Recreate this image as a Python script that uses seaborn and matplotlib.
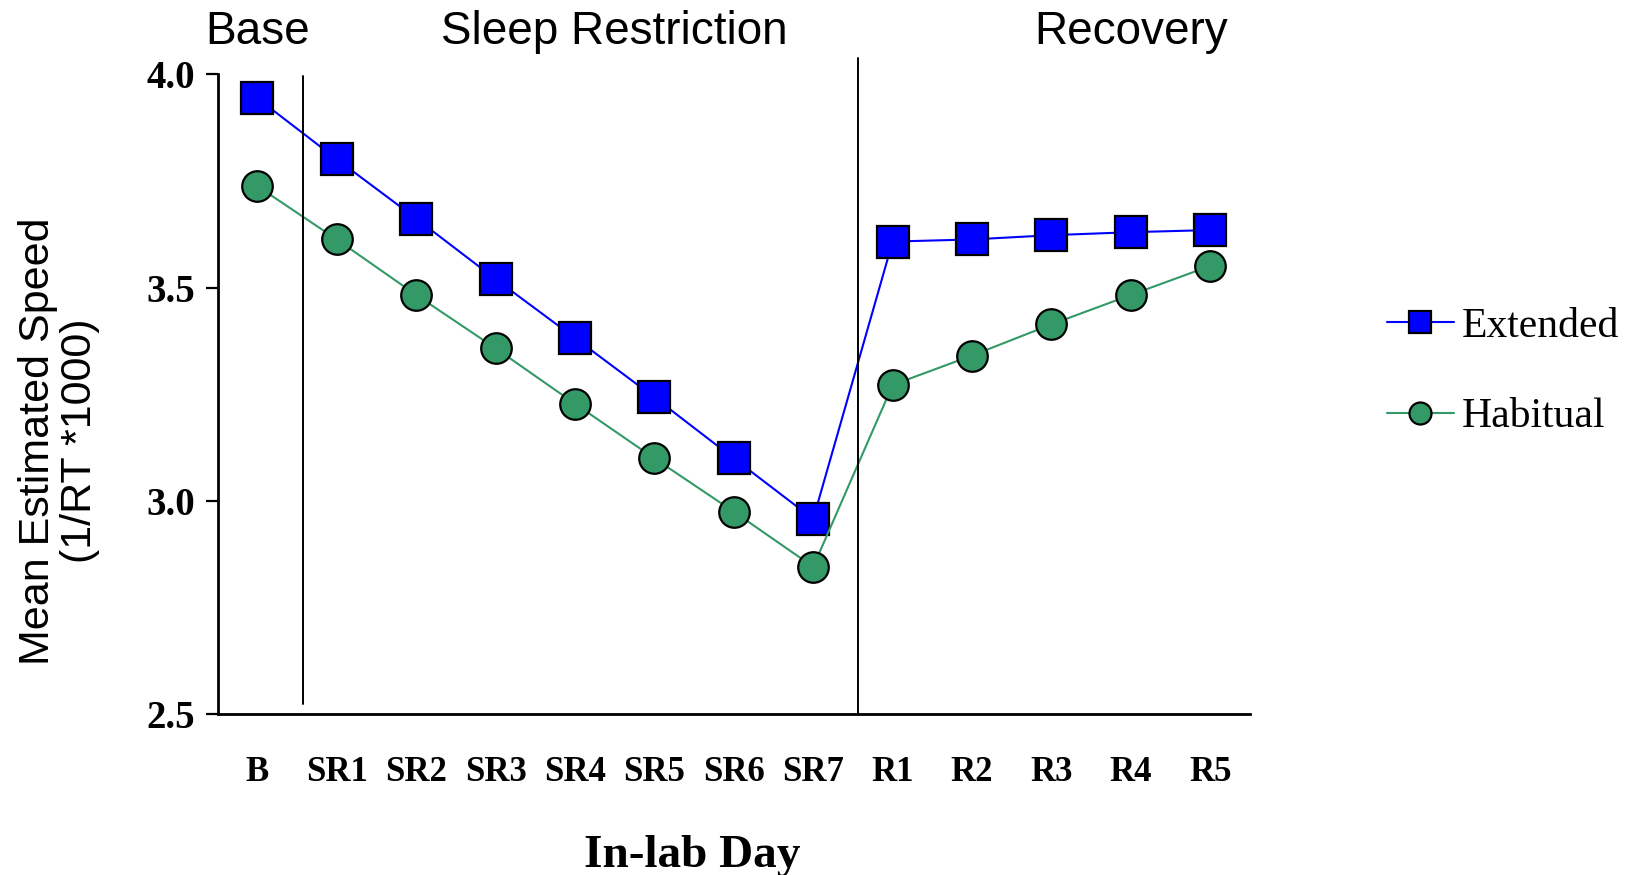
import matplotlib
matplotlib.use("Agg")
import matplotlib.pyplot as plt
import seaborn as sns
import pandas as pd
import numpy as np

days = ["B", "SR1", "SR2", "SR3", "SR4", "SR5", "SR6", "SR7", "R1", "R2", "R3", "R4", "R5"]
extended = [3.944, 3.801, 3.662, 3.520, 3.382, 3.243, 3.100, 2.958, 3.608, 3.613, 3.623, 3.630, 3.635]
habitual = [3.738, 3.613, 3.483, 3.358, 3.228, 3.100, 2.975, 2.846, 3.272, 3.341, 3.414, 3.483, 3.551]
series_names = ["Extended", "Habitual"]
phase_labels = ["Base", "Sleep Restriction", "Recovery"]
y_ticks = [2.5, 3.0, 3.5, 4.0]

sns.set_style("white")
plt.rcParams["font.family"] = ["Liberation Serif", "DejaVu Serif"]
for k in ["text.color", "axes.labelcolor", "xtick.color", "ytick.color", "axes.edgecolor"]:
    plt.rcParams[k] = "black"

pos = np.arange(len(days))
df = pd.DataFrame({
    "pos": np.concatenate([pos, pos]),
    "value": extended + habitual,
    "group": [series_names[0]] * len(days) + [series_names[1]] * len(days),
})

fig = plt.figure(figsize=(16.4, 8.75), dpi=100)
ax = fig.add_axes([0.1327, 0.1835, 0.6295, 0.7316])

palette = {"Extended": "#0000FF", "Habitual": "#339966"}
markers = {"Extended": "s", "Habitual": "o"}
sizes = {"Extended": 23, "Habitual": 22}
for name in series_names:
    sub = df[df["group"] == name]
    sns.lineplot(data=sub, x="pos", y="value", ax=ax, color=palette[name],
                 marker=markers[name], markersize=sizes[name],
                 markerfacecolor=palette[name], markeredgecolor="black",
                 markeredgewidth=1.6, linewidth=1.5, label=name)

ax.set_xlim(-0.5, len(days) - 0.5)
ax.set_ylim(2.5, 4.0)
ax.set_xticks(pos)
ax.set_xticklabels(days, fontsize=25, fontweight="bold")
ax.set_yticks(y_ticks)
ax.set_yticklabels([f"{v:.1f}" for v in y_ticks], fontsize=28, fontweight="bold")
ax.tick_params(axis="y", direction="out", length=9, width=1.6, pad=7, left=True)
ax.tick_params(axis="x", length=0, pad=30)

for s in ["top", "right"]:
    ax.spines[s].set_visible(False)
for s in ["left", "bottom"]:
    ax.spines[s].set_linewidth(2.0)
    ax.spines[s].set_color("black")

# separators between phases
ax.plot([0.57, 0.57], [2.525, 3.995], color="black", linewidth=1.4, clip_on=False)
ax.plot([7.57, 7.57], [2.5, 4.037], color="black", linewidth=1.4, clip_on=False)

# phase labels
sans = ["Liberation Sans", "DejaVu Sans"]
ax.text(0, 4.048, phase_labels[0], ha="center", va="bottom", fontsize=33, family=sans)
ax.text(4.5, 4.048, phase_labels[1], ha="center", va="bottom", fontsize=33, family=sans)
ax.text(11.0, 4.048, phase_labels[2], ha="center", va="bottom", fontsize=33, family=sans)

ax.set_xlabel("In-lab Day", fontsize=34, fontweight="bold")
ax.xaxis.set_label_coords(0.46, -0.188)
ax.set_ylabel("Mean Estimated Speed\n(1/RT *1000)", fontsize=31, family=sans,
              linespacing=1.05)
ax.yaxis.set_label_coords(-0.114, 0.427)

leg = ax.legend(loc="center left", bbox_to_anchor=(0.833, 0.575),
                bbox_transform=fig.transFigure, frameon=False, fontsize=30,
                handlelength=1.6, handletextpad=0.2, labelspacing=1.25,
                borderpad=0, markerscale=0.72)

fig.savefig("out.png", dpi=100)
